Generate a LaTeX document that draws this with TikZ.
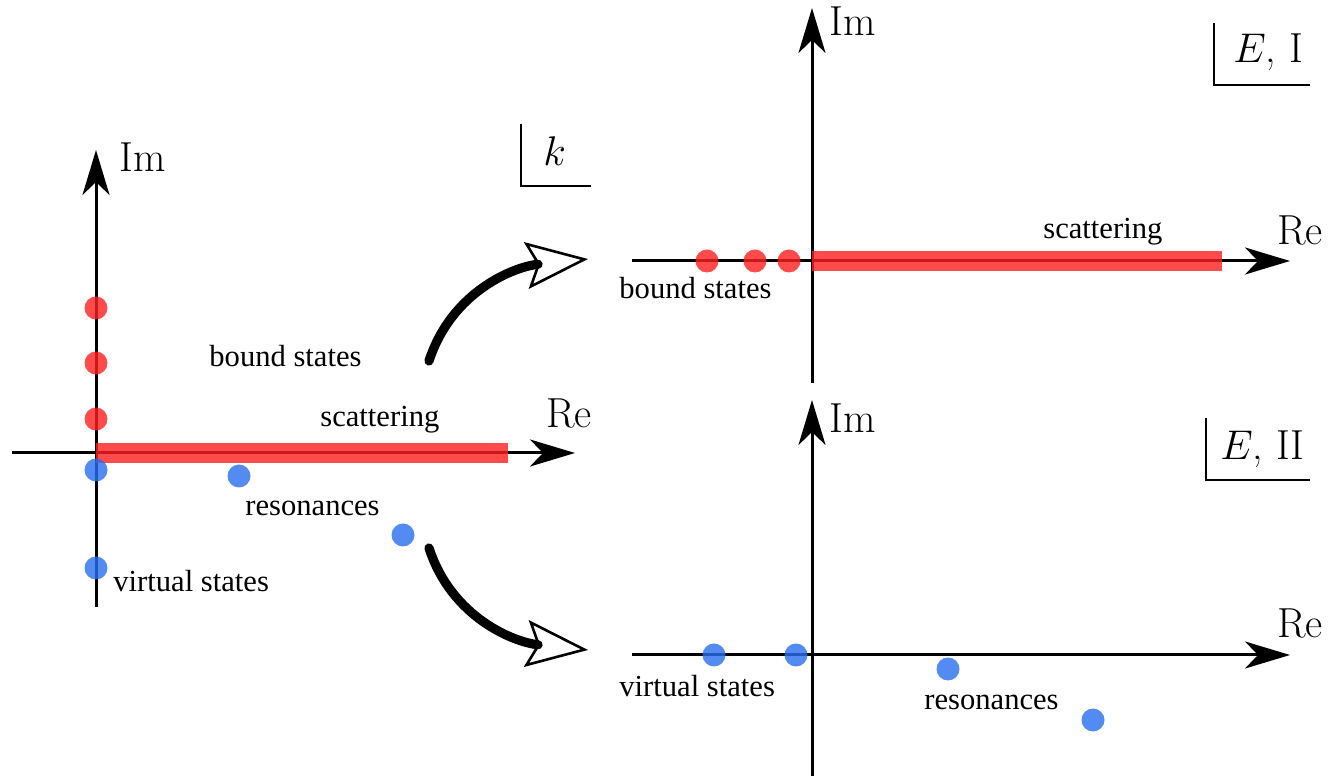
\documentclass[tikz,border=0pt]{standalone}
\usepackage{fontspec}
\newfontfamily\labfont{Liberation Serif}
\usetikzlibrary{arrows.meta}
\definecolor{dotred}{RGB}{255,30,30}
\definecolor{dotblue}{RGB}{40,110,240}
\begin{document}
\begin{tikzpicture}[x=0.5pt,y=0.5pt,
  axis/.style={line width=1.5pt,-{Stealth[length=22.5pt,width=13.5pt,inset=6.5pt]}},
  band/.style={line width=10pt,draw=dotred,draw opacity=0.8},
  rdot/.style={circle,fill=dotred,fill opacity=0.8,minimum size=11.5pt,inner sep=0pt},
  bdot/.style={circle,fill=dotblue,fill opacity=0.8,minimum size=11.5pt,inner sep=0pt},
  axlab/.style={anchor=base west,inner sep=0pt,font=\fontsize{21}{25}\selectfont},
  lab/.style={anchor=base west,inner sep=0pt,font=\labfont\fontsize{15.3}{18}\selectfont},
  corner/.style={line width=1.2pt},
  bigarrow/.style={line width=4.6pt,line cap=round,-{Stealth[open,length=31pt,width=23.5pt,inset=5.5pt,line width=1.3pt]}}
]
\useasboundingbox (0,0) rectangle (1329,777);
% ---------- left panel (k plane) ----------
\coordinate (lvb) at (96,170);
\coordinate (lvt) at (96,627);
\coordinate (lhl) at (12,324);
\coordinate (lhr) at (575,324);
\coordinate (lo) at (96,324);
\coordinate (lbe) at (508,324);
\draw[axis] (lvb) -- (lvt);
\draw[axis] (lhl) -- (lhr);
\draw[band] (lo) -- (lbe);
\node[rdot] (lr1) at (96,469) {};
\node[rdot] (lr2) at (96,414) {};
\node[rdot] (lr3) at (96,358) {};
\node[bdot] (lb1) at (96,307) {};
\node[bdot] (lb2) at (239,301) {};
\node[bdot] (lb3) at (403,242) {};
\node[bdot] (lb4) at (96,209) {};
\node[axlab] (lim) at (119,605) {Im};
\node[axlab] (lre) at (546,349) {Re};
\node[lab] (lbound) at (209,410) {bound states};
\node[lab] (lscat) at (320,350) {scattering};
\node[lab] (lres) at (245,261) {resonances};
\node[lab] (lvirt) at (113,185) {virtual states};
\coordinate (kc1) at (521,653);
\coordinate (kc2) at (521,591);
\coordinate (kc3) at (591,591);
\draw[corner] (kc1) -- (kc2) -- (kc3);
\node[axlab] (klab) at (543,611) {$k$};
% ---------- top right panel (E, sheet I) ----------
\coordinate (tvb) at (812,394);
\coordinate (tvt) at (812,769);
\coordinate (thl) at (632,516);
\coordinate (thr) at (1290,516);
\coordinate (to) at (812,516);
\coordinate (tbe) at (1222,516);
\draw[axis] (tvb) -- (tvt);
\draw[axis] (thl) -- (thr);
\draw[band] (to) -- (tbe);
\node[rdot] (tr1) at (707,516) {};
\node[rdot] (tr2) at (755,516) {};
\node[rdot] (tr3) at (789,516) {};
\node[axlab] (tim) at (829,741) {Im};
\node[axlab] (tre) at (1277,532) {Re};
\node[lab] (tscat) at (1043,538) {scattering};
\node[lab] (tbound) at (619,478) {bound states};
\coordinate (ec1) at (1214,754);
\coordinate (ec2) at (1214,692);
\coordinate (ec3) at (1310,692);
\draw[corner] (ec1) -- (ec2) -- (ec3);
\node[axlab] (elab1) at (1233,714) {$E$, I};
% ---------- bottom right panel (E, sheet II) ----------
\coordinate (bvb) at (812,1);
\coordinate (bvt) at (812,377);
\coordinate (bhl) at (632,122);
\coordinate (bhr) at (1290,122);
\draw[axis] (bvb) -- (bvt);
\draw[axis] (bhl) -- (bhr);
\node[bdot] (bb1) at (714,122) {};
\node[bdot] (bb2) at (796,122) {};
\node[bdot] (bb3) at (948,108) {};
\node[bdot] (bb4) at (1093,57) {};
\node[axlab] (bim) at (829,344) {Im};
\node[axlab] (bre) at (1277,139) {Re};
\node[lab] (bvirt) at (619,80) {virtual states};
\node[lab] (bres) at (924,67) {resonances};
\coordinate (fc1) at (1206,359);
\coordinate (fc2) at (1206,297);
\coordinate (fc3) at (1310,297);
\draw[corner] (fc1) -- (fc2) -- (fc3);
\node[axlab] (elab2) at (1220,317) {$E$, II};
% ---------- mapping arrows ----------
\coordinate (a1s) at (429,416);
\coordinate (a1e) at (588,518);
\coordinate (a2s) at (429,229);
\coordinate (a2e) at (588,127);
\draw[bigarrow] (a1s) to[out=72,in=186] (a1e);
\draw[bigarrow] (a2s) to[out=-72,in=174] (a2e);
\end{tikzpicture}
\end{document}
